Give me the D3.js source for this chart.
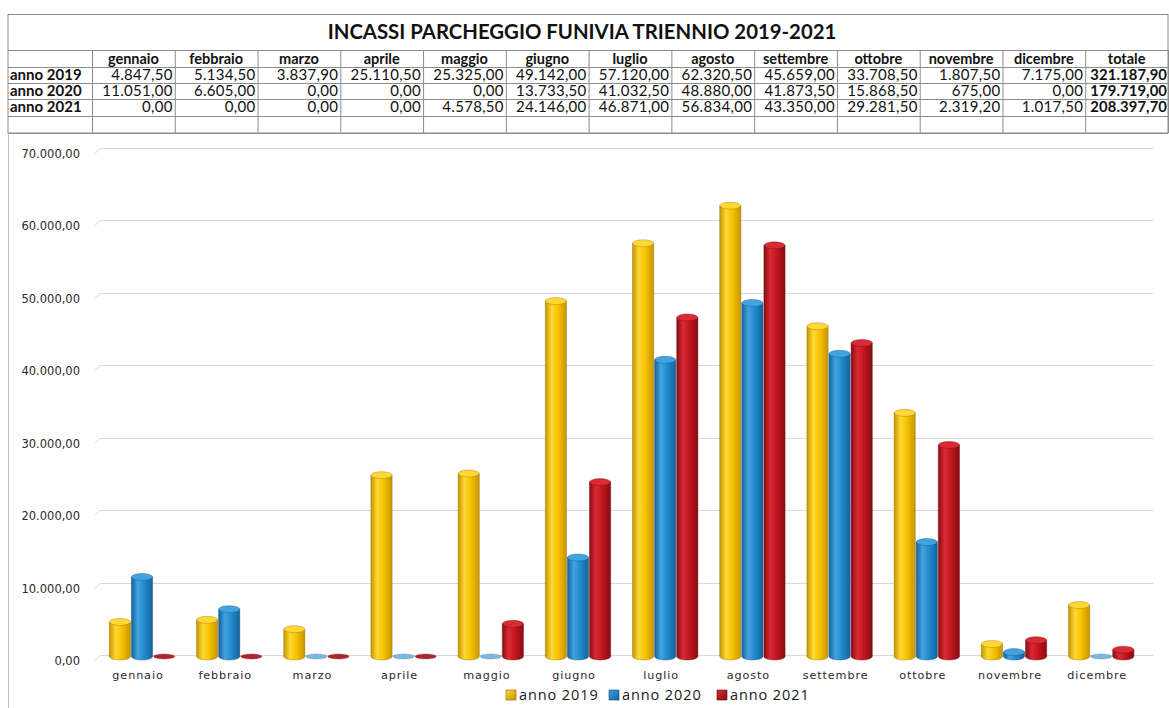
<!DOCTYPE html>
<html><head><meta charset="utf-8">
<script src="https://cdn.jsdelivr.net/npm/d3@7"></script>
<style>
html,body{margin:0;padding:0;background:#fff;}
svg{display:block;}
</style></head>
<body>
<svg id="c" width="1169" height="708"></svg>
<script>
// ---------- DATA ----------
const title = "INCASSI PARCHEGGIO FUNIVIA TRIENNIO 2019-2021";
const months = ["gennaio","febbraio","marzo","aprile","maggio","giugno","luglio","agosto","settembre","ottobre","novembre","dicembre"];
const seriesNames = ["anno 2019","anno 2020","anno 2021"];
const values2019 = [4847.5, 5134.5, 3837.9, 25110.5, 25325.0, 49142.0, 57120.0, 62320.5, 45659.0, 33708.5, 1807.5, 7175.0];
const values2020 = [11051.0, 6605.0, 0, 0, 0, 13733.5, 41032.5, 48880.0, 41873.5, 15868.5, 675.0, 0];
const values2021 = [0, 0, 0, 0, 4578.5, 24146.0, 46871.0, 56834.0, 43350.0, 29281.5, 2319.2, 1017.5];
const totals = [321187.9, 179719.0, 208397.7];
const totalLabel = "totale";
const yTicks = [0, 10000, 20000, 30000, 40000, 50000, 60000, 70000];

const seriesValues = [values2019, values2020, values2021];
const colors = [
  {base:"#F6C200", light:"#FFD835", dark:"#C79500", line:"#8a6a00", zero:"#E8C040"},
  {base:"#218BCC", light:"#43A3E0", dark:"#13639C", line:"#0f4a75", zero:"#7DB6E0"},
  {base:"#C2161F", light:"#DB2A33", dark:"#880C12", line:"#5e0a0e", zero:"#B0242C"}
];

const it = d3.formatLocale({decimal:",", thousands:".", grouping:[3], currency:["€",""]});
const fmt = it.format(",.2f");

const svg = d3.select("#c");
const defs = svg.append("defs");
colors.forEach((c,i)=>{
  const g = defs.append("linearGradient").attr("id","cyl"+i).attr("x1","0").attr("x2","1").attr("y1","0").attr("y2","0");
  g.append("stop").attr("offset","0%").attr("stop-color",c.dark);
  g.append("stop").attr("offset","30%").attr("stop-color",c.light);
  g.append("stop").attr("offset","60%").attr("stop-color",c.base);
  g.append("stop").attr("offset","100%").attr("stop-color",c.dark);
  const s = defs.append("linearGradient").attr("id","sq"+i).attr("x1","0").attr("x2","1").attr("y1","0").attr("y2","1");
  s.append("stop").attr("offset","0%").attr("stop-color",c.light);
  s.append("stop").attr("offset","100%").attr("stop-color",c.dark);
});

// ---------- TABLE ----------
const gridCol = "#8c8c8c";
const tbl = svg.append("g");
const tLeft = 8, tRight = 1168, labelColRight = 92;
const rowLines = [50, 67, 83, 99, 116, 133];
const colX = d3.scaleBand().domain([...months, totalLabel]).range([labelColRight, tRight]);

tbl.append("rect").attr("x",tLeft).attr("y",14.5).attr("width",tRight-tLeft).attr("height",133-14.5)
  .attr("fill","none").attr("stroke",gridCol).attr("stroke-width",1);
rowLines.forEach(y=>{
  tbl.append("line").attr("x1",tLeft).attr("x2",tRight).attr("y1",y+0.5).attr("y2",y+0.5)
    .attr("stroke",gridCol).attr("stroke-width",1);
});
[labelColRight, ...colX.domain().map(d=>colX(d)+colX.bandwidth())].forEach(x=>{
  tbl.append("line").attr("x1",x+0.5).attr("x2",x+0.5).attr("y1",50).attr("y2",133)
    .attr("stroke",gridCol).attr("stroke-width",1);
});
const tt = tbl.append("text").attr("x",582).attr("y",39).attr("text-anchor","middle")
  .attr("font-family","Lato").attr("font-weight","bold").attr("font-size",18).attr("fill","#111").text(title);
const tw = tt.node().getComputedTextLength();
tt.attr("font-size", 18*509/tw);

colX.domain().forEach(m=>{
  tbl.append("text").attr("x",colX(m)+colX.bandwidth()/2).attr("y",63.5).attr("text-anchor","middle")
    .attr("font-family","Lato").attr("font-weight","bold").attr("font-size",14.5).attr("fill","#111").text(m);
});
seriesNames.forEach((s,i)=>{
  const yb = rowLines[i+1] + 13;
  tbl.append("text").attr("x",10).attr("y",yb).attr("font-family","Lato").attr("font-weight","bold")
    .attr("font-size",15).attr("fill","#111").text(s);
  seriesValues[i].forEach((v,j)=>{
    tbl.append("text").attr("x",colX(months[j])+colX.bandwidth()-2).attr("y",yb).attr("text-anchor","end")
      .attr("font-family","Lato").attr("font-size",15).attr("letter-spacing",0.3).attr("fill","#111").text(fmt(v));
  });
  tbl.append("text").attr("x",colX(totalLabel)+colX.bandwidth()-1).attr("y",yb).attr("text-anchor","end")
    .attr("font-family","Lato").attr("font-weight","bold").attr("font-size",14.8).attr("letter-spacing",0.1).attr("fill","#111").text(fmt(totals[i]));
});

svg.append("line").attr("x1",tLeft+0.5).attr("x2",tLeft+0.5).attr("y1",133).attr("y2",708)
  .attr("stroke","#bdbdbd").attr("stroke-width",1);

// ---------- CHART ----------
const y = d3.scaleLinear().domain([0,70000]).range([655,148]);
const x = d3.scaleBand().domain(months).range([98.4,1144.8]).paddingInner(0.25).paddingOuter(0.125);
const xs = d3.scaleBand().domain(d3.range(3)).range([0,x.bandwidth()]).paddingInner(0.04);

const grid = svg.append("g");
yTicks.forEach(t=>{
  const yy = Math.round(y(t))+0.5;
  grid.append("path").attr("d",`M95,${yy+5}L100,${yy}L1153,${yy}`).attr("fill","none")
    .attr("stroke","#d8d8d8").attr("stroke-width",1);
  grid.append("text").attr("x",80).attr("y",yy+5).attr("dy","0.35em").attr("text-anchor","end")
    .attr("font-family","DejaVu Sans").attr("font-size",11.5).attr("fill","#2a2a2a").text(fmt(t));
});

const bars = svg.append("g");
const ry = 3.5;
months.forEach((m,j)=>{
  seriesValues.forEach((vals,i)=>{
    const v = vals[j];
    const bx = x(m) + xs(i), w = xs.bandwidth(), cx = bx + w/2;
    const yb = y(0) + 1.5;
    const c = colors[i];
    if (v <= 0) {
      bars.append("ellipse").attr("cx",cx).attr("cy",yb).attr("rx",w/2).attr("ry",2.6)
        .attr("fill",c.zero).attr("stroke",c.line).attr("stroke-opacity",0.35).attr("stroke-width",0.6);
      return;
    }
    const yt = Math.min(y(v) + 2, yb - 2.5);
    bars.append("path")
      .attr("d",`M${bx},${yt}L${bx},${yb}A${w/2},${ry} 0 0 0 ${bx+w},${yb}L${bx+w},${yt}Z`)
      .attr("fill",`url(#cyl${i})`).attr("stroke",c.line).attr("stroke-opacity",0.55).attr("stroke-width",0.7);
    bars.append("ellipse").attr("cx",cx).attr("cy",yt).attr("rx",w/2).attr("ry",ry)
      .attr("fill",c.light).attr("stroke",c.line).attr("stroke-opacity",0.5).attr("stroke-width",0.7);
  });
  svg.append("text").attr("x",x(m)+x.bandwidth()/2-4).attr("y",679).attr("text-anchor","middle")
    .attr("font-family","DejaVu Sans").attr("font-size",11.2).attr("letter-spacing",0.9).attr("fill","#2a2a2a").text(m);
});

const legX = [506, 609, 717];
seriesNames.forEach((s,i)=>{
  svg.append("rect").attr("x",legX[i]).attr("y",690).attr("width",10).attr("height",10)
    .attr("fill",`url(#sq${i})`).attr("stroke",colors[i].line).attr("stroke-width",0.6);
  svg.append("text").attr("x",legX[i]+13).attr("y",700).attr("font-family","Open Sans")
    .attr("font-size",14.5).attr("letter-spacing",0.9).attr("fill","#1a1a1a").text(s);
});
</script>
</body></html>
